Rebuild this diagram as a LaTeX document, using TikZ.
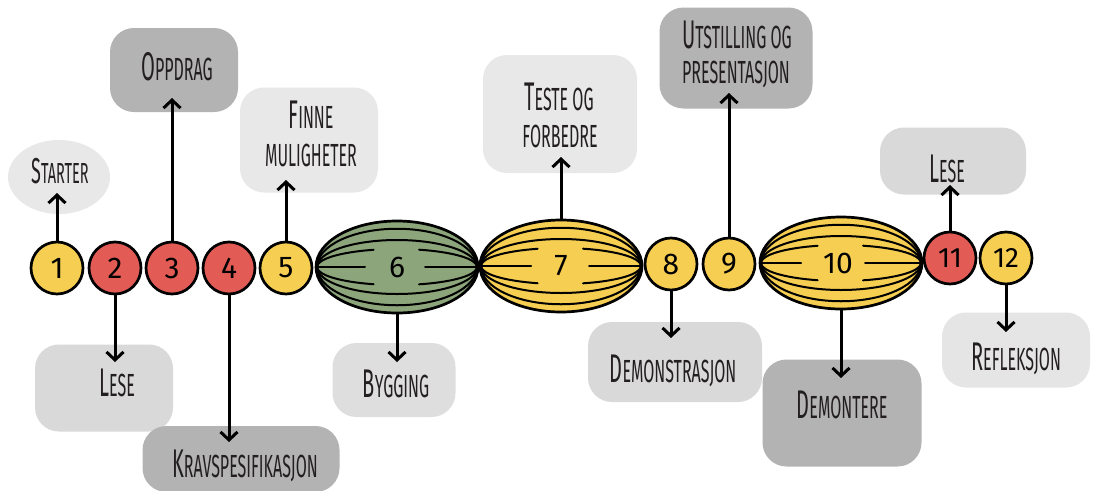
\documentclass[tikz,border=0pt]{standalone}
\usepackage{fontspec}
\usetikzlibrary{arrows.meta,shapes.geometric}
\newfontfamily\labfont[FakeStretch=0.5]{Fira Sans}
\newfontfamily\numfont{Fira Sans}
\newcommand\SCw[2]{{\fontsize{40}{40}\selectfont #1}{\fontsize{32}{40}\selectfont #2}}
\newcommand\SCs[1]{{\fontsize{32}{40}\selectfont #1}}
\newcommand\SCx[2]{{\fontsize{36}{40}\selectfont #1}{\fontsize{29}{40}\selectfont #2}}
\definecolor{cyel}{HTML}{F6CE52}
\definecolor{cred}{HTML}{E25B55}
\definecolor{cgrn}{HTML}{8CA57B}
\definecolor{txt}{HTML}{231F20}
\definecolor{glight}{HTML}{E8E8E9}
\definecolor{gmid}{HTML}{D9D9DA}
\definecolor{gdark}{HTML}{B3B3B4}
\tikzset{
  dot/.style={circle, draw=black, line width=2.7pt, minimum size=52pt, inner sep=0pt, font=\numfont\fontsize{30}{30}\selectfont},
  seed/.style={ellipse, draw=black, line width=2.7pt, minimum width=162pt, minimum height=92pt, inner sep=0pt},
  seednum/.style={text=black, inner sep=0pt, font=\numfont\fontsize{30}{30}\selectfont},
  seedline/.style={draw=black, line width=2pt, line cap=round},
  blob/.style={rectangle, rounded corners=24pt, inner sep=0pt},
  lab/.style={text=txt, font=\labfont\fontsize{32}{40}\selectfont, align=center, inner sep=0pt, anchor=base},
  arr/.style={draw=black, line width=3pt, -{Straight Barb[length=8pt,width=17pt,line width=3pt]}}
}
\newcommand\seedlines[4]{% cx cy leftgap rightgap
  \begin{scope}[shift={(#1,#2)}]
    \foreach \k in {0.85,0.6}{
      \draw[seedline] (-80,0) arc[start angle=180,end angle=0,x radius=80pt,y radius=\k*45pt];
      \draw[seedline] (-80,0) arc[start angle=180,end angle=360,x radius=80pt,y radius=\k*45pt];
    }
    \draw[seedline] (-80,0) arc[start angle=180,end angle=107,x radius=80pt,y radius=0.4*45pt];
    \draw[seedline] (-80,0) arc[start angle=180,end angle=253,x radius=80pt,y radius=0.4*45pt];
    \draw[seedline] (80,0) arc[start angle=0,end angle=74,x radius=80pt,y radius=0.4*45pt];
    \draw[seedline] (80,0) arc[start angle=360,end angle=286,x radius=80pt,y radius=0.4*45pt];
    \draw[seedline] (-80,0) -- (#3,0);
    \draw[seedline] (#4,0) -- (80,0);
  \end{scope}}
\begin{document}
\begin{tikzpicture}[x=1pt,y=-1pt]
\useasboundingbox[fill=white] (0,0) rectangle (1099,490);
% boxes
\node[ellipse, fill=glight, minimum width=102pt, minimum height=74pt, inner sep=0pt] (b1) at (59,177) {};
\node[blob, fill=gmid, minimum width=138pt, minimum height=87pt] (b2) at (104,388) {};
\node[blob, fill=gdark, minimum width=128pt, minimum height=84pt] (b3) at (174,70) {};
\node[blob, fill=gdark, minimum width=197pt, minimum height=66pt] (b4) at (241,459) {};
\node[blob, fill=glight, minimum width=138pt, minimum height=105pt] (b5) at (309,140) {};
\node[blob, fill=gmid!70!glight, minimum width=123pt, minimum height=74pt] (b6) at (394,380) {};
\node[blob, fill=glight, minimum width=154pt, minimum height=118pt] (b7) at (560,114) {};
\node[blob, fill=gmid, minimum width=174pt, minimum height=80pt] (b8) at (675,362) {};
\node[blob, fill=gdark, minimum width=153pt, minimum height=101pt] (b9) at (736,58) {};
\node[blob, fill=gdark, minimum width=159pt, minimum height=107pt] (b10) at (842,413) {};
\node[blob, fill=gmid, minimum width=146pt, minimum height=67pt] (b11) at (953,161) {};
\node[blob, fill=glight!80!gmid, minimum width=148pt, minimum height=75pt] (b12) at (1016,350) {};
% labels (anchored at baseline)
\node[lab] (t1) at (60,183) {\SCx{S}{TARTER}};
\node[lab] (t2) at (117,396) {\SCw{L}{ESE}};
\node[lab] (t3) at (177,80) {\SCw{O}{PPDRAG}};
\node[lab] (t4) at (245,477) {\SCw{K}{RAVSPESIFIKASJON}};
\node[lab] (t5) at (311,128) {\SCw{F}{INNE}};
\node[lab] (t5b) at (311,166) {\SCs{MULIGHETER}};
\node[lab] (t6) at (396,397) {\SCw{B}{YGGING}};
\node[lab] (t7) at (559,110) {\SCw{T}{ESTE OG}};
\node[lab] (t7b) at (560,147) {\SCs{FORBEDRE}};
\node[lab] (t8) at (673,382) {\SCw{D}{EMONSTRASJON}};
\node[lab] (t9) at (737,48) {\SCw{U}{TSTILLING OG}};
\node[lab] (t9b) at (736,83) {\SCs{PRESENTASJON}};
\node[lab] (t10) at (842,418) {\SCw{D}{EMONTERE}};
\node[lab] (t11) at (947,182) {\SCw{L}{ESE}};
\node[lab] (t12) at (1016,370) {\SCw{R}{EFLEKSJON}};
% process nodes
\node[dot, fill=cyel] (n1) at (57,268) {1};
\node[dot, fill=cred] (n2) at (115,268) {2};
\node[dot, fill=cred] (n3) at (172,268) {3};
\node[dot, fill=cred] (n4) at (229,268) {4};
\node[dot, fill=cyel] (n5) at (286,268) {5};
\node[seed, fill=cgrn] (n6) at (397,267) {};
\seedlines{397}{267}{-32}{28}
\node[seednum] (l6) at (397,267) {6};
\node[seed, fill=cyel] (n7) at (561,266) {};
\seedlines{561}{266}{-30}{28}
\node[seednum] (l7) at (561,266) {7};
\node[dot, fill=cyel] (n8) at (671,264) {8};
\node[dot, fill=cyel] (n9) at (729,264) {9};
\node[seed, fill=cyel] (n10) at (841,263) {};
\seedlines{841}{263}{-40}{24}
\node[seednum] (l10) at (838,263) {10};
\node[dot, fill=cred, font=\numfont\fontsize{28}{28}\selectfont] (n11) at (950,258) {11};
\node[dot, fill=cyel, font=\numfont\fontsize{28}{28}\selectfont] (n12) at (1006,258) {12};
% arrow ends
\coordinate (a1) at (57,193);
\coordinate (a2) at (115,362);
\coordinate (a3) at (172,98);
\coordinate (a4) at (229,442);
\coordinate (a5) at (286,180);
\coordinate (a6) at (397,362);
\coordinate (a7) at (561,157);
\coordinate (a8) at (671,338);
\coordinate (a9) at (729,93);
\coordinate (a10) at (841,378);
\coordinate (a11) at (950,185);
\coordinate (a12) at (1006,332);
\draw[arr] (n1.north) -- (a1);
\draw[arr] (n2.south) -- (a2);
\draw[arr] (n3.north) -- (a3);
\draw[arr] (n4.south) -- (a4);
\draw[arr] (n5.north) -- (a5);
\draw[arr] (n6.south) -- (a6);
\draw[arr] (n7.north) -- (a7);
\draw[arr] (n8.south) -- (a8);
\draw[arr] (n9.north) -- (a9);
\draw[arr] (n10.south) -- (a10);
\draw[arr] (n11.north) -- (a11);
\draw[arr] (n12.south) -- (a12);
\end{tikzpicture}
\end{document}
